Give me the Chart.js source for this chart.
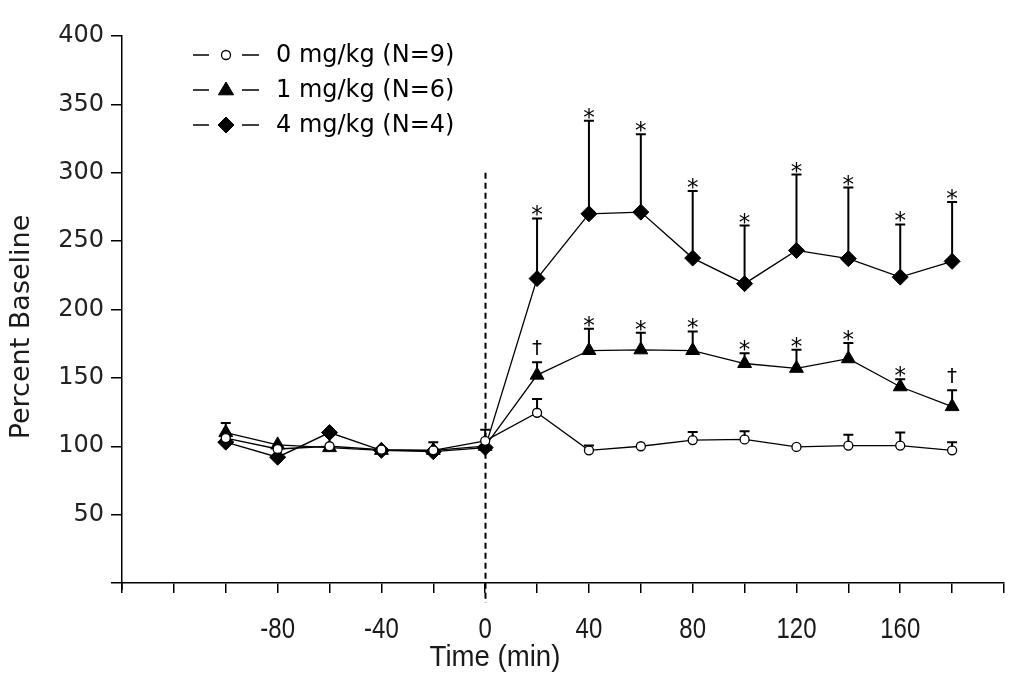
<!DOCTYPE html>
<html>
<head>
<meta charset="utf-8">
<title>Percent Baseline vs Time</title>
<script src="https://cdn.jsdelivr.net/npm/chart.js@4.4.1/dist/chart.umd.min.js"></script>
<style>
  html, body { margin: 0; padding: 0; background: #fff; }
  #wrap { width: 1019px; height: 686px; position: relative; }
</style>
</head>
<body>
<div id="wrap"><canvas id="chart"></canvas></div>
<script>
// data (percent of baseline, upper SEM)
const times = [-100, -80, -60, -40, -20, 0, 20, 40, 60, 80, 100, 120, 140, 160, 180];

const dose0 = [106, 98, 100, 97.5, 97, 104, 124.5, 97, 100, 104.5, 105, 99.5, 100.5, 100.5, 97];
const dose0Err = [0, 0, 0, 0, 6, 8, 10, 3.5, 0, 6, 6, 0, 8, 9.5, 6];

const dose1 = [110, 101, 99, 97, 97, 100, 152, 170, 170.5, 170, 160.5, 157, 164, 143.5, 129];
const dose1Err = [7, 0, 0, 0, 0, 0, 9.5, 16, 12.5, 14, 7.5, 13.5, 11.5, 5.5, 12];
const dose1Marks = ["", "", "", "", "", "", "\u2020", "*", "*", "*", "*", "*", "*", "*", "\u2020"];

const dose4 = [103, 92, 110, 97, 96, 99, 222.6, 270, 271.2, 237.6, 218.9, 243.2, 237.2, 223.7, 235.2];
const dose4Err = [0, 0, 0, 0, 0, 0, 44, 68, 57, 49, 42.5, 55.5, 52, 38.5, 43.5];
const dose4Marks = ["", "", "", "", "", "", "*", "*", "*", "*", "*", "*", "*", "*", "*"];

const legendLabels = ["0 mg/kg (N=9)", "1 mg/kg (N=6)", "4 mg/kg (N=4)"];
const xLabelTicks = [-80, -40, 0, 40, 80, 120, 160];
const xTitle = "Time (min)";
const yTitle = "Percent Baseline";
const injectionTime = 0;
const injectionLineTop = 300;

const SANS = "'DejaVu Sans', 'Liberation Sans', sans-serif";
const NARROW = "'Liberation Sans', 'Arimo', sans-serif";

function toPoints(vals){
  return vals.map((v, i) => ({ x: times[i], y: v }));
}

// dashed vertical line at injection time
const injectionLine = {
  id: "injectionLine",
  beforeDatasetsDraw(chart){
    const { ctx, scales: { x, y }, chartArea } = chart;
    const px = Math.round(x.getPixelForValue(injectionTime)) + 0.5;
    ctx.save();
    ctx.strokeStyle = "#000";
    ctx.lineWidth = 2;
    ctx.setLineDash([6, 4]);
    ctx.beginPath();
    ctx.moveTo(px, y.getPixelForValue(injectionLineTop));
    ctx.lineTo(px, chartArea.bottom + 20);
    ctx.stroke();
    ctx.setLineDash([]);
    // small overshoot of the y axis below the x axis
    ctx.lineWidth = 1.5;
    ctx.beginPath();
    ctx.moveTo(chartArea.left, chartArea.bottom);
    ctx.lineTo(chartArea.left, chartArea.bottom + 7);
    ctx.stroke();
    ctx.restore();
  }
};

// upper error bars plus significance marks
const errorBars = {
  id: "errorBars",
  afterDatasetsDraw(chart){
    const { ctx, scales: { y } } = chart;
    ctx.save();
    chart.data.datasets.forEach((ds, i) => {
      const meta = chart.getDatasetMeta(i);
      meta.data.forEach((pt, j) => {
        const e = ds.errHigh[j];
        const mark = ds.marks ? ds.marks[j] : "";
        let topY = pt.y - ds.pointRadius;
        if(e){
          topY = y.getPixelForValue(ds.data[j].y + e);
          ctx.strokeStyle = "#000";
          ctx.lineWidth = 2;
          ctx.beginPath();
          ctx.moveTo(pt.x, pt.y - ds.pointRadius + 1);
          ctx.lineTo(pt.x, topY);
          ctx.moveTo(pt.x - 5, topY);
          ctx.lineTo(pt.x + 5, topY);
          ctx.stroke();
        }
        if(mark){
          ctx.fillStyle = "#000";
          ctx.textAlign = "center";
          if(mark === "*"){
            ctx.font = "23px " + SANS;
            ctx.textBaseline = "alphabetic";
            ctx.fillText(mark, pt.x, topY + 4);
          } else {
            ctx.font = "20px " + SANS;
            ctx.textBaseline = "bottom";
            ctx.fillText(mark, pt.x, topY - 3);
          }
        }
      });
    });
    ctx.restore();
  }
};

// condensed x labels and axis titles, drawn as canvas text
const axisText = {
  id: "axisText",
  afterDraw(chart){
    const { ctx, scales: { x }, chartArea } = chart;
    ctx.save();
    ctx.fillStyle = "#1a1a1a";
    ctx.textAlign = "center";
    ctx.textBaseline = "middle";
    ctx.font = "30px " + NARROW;
    xLabelTicks.forEach(v => {
      ctx.save();
      ctx.translate(x.getPixelForValue(v), chartArea.bottom + 47);
      ctx.scale(0.8, 1);
      ctx.fillText(String(v), 0, 0);
      ctx.restore();
    });
    ctx.save();
    ctx.translate(495, chartArea.bottom + 75);
    ctx.scale(0.92, 1);
    ctx.fillText(xTitle, 0, 0);
    ctx.restore();

    ctx.save();
    ctx.font = "27px " + SANS;
    ctx.translate(22, 327);
    ctx.rotate(-Math.PI / 2);
    ctx.fillText(yTitle, 0, 0);
    ctx.restore();
    ctx.restore();
  }
};

// legend in the upper-left corner of the plot, Origin style
const cornerLegend = {
  id: "cornerLegend",
  afterDraw(chart){
    const ctx = chart.ctx;
    const rowY = [55, 90, 125];
    ctx.save();
    chart.data.datasets.forEach((ds, i) => {
      const yy = rowY[i];
      ctx.strokeStyle = "#000";
      ctx.lineWidth = 1.5;
      ctx.beginPath();
      ctx.moveTo(193, yy); ctx.lineTo(209, yy);
      ctx.moveTo(242, yy); ctx.lineTo(259, yy);
      ctx.stroke();
      ctx.fillStyle = ds.pointBackgroundColor;
      ctx.strokeStyle = ds.pointBorderColor;
      ctx.lineWidth = ds.pointBorderWidth;
      ctx.beginPath();
      const r = ds.pointRadius;
      if(ds.pointStyle === "circle"){
        ctx.arc(226, yy, r, 0, Math.PI * 2);
      } else if(ds.pointStyle === "triangle"){
        ctx.moveTo(226, yy - r);
        ctx.lineTo(226 + r * 0.95, yy + r * 0.6);
        ctx.lineTo(226 - r * 0.95, yy + r * 0.6);
        ctx.closePath();
      } else {
        ctx.moveTo(226, yy - r);
        ctx.lineTo(226 + r, yy);
        ctx.lineTo(226, yy + r);
        ctx.lineTo(226 - r, yy);
        ctx.closePath();
      }
      ctx.fill();
      ctx.stroke();
      ctx.fillStyle = "#000";
      ctx.font = "24px " + SANS;
      ctx.textAlign = "left";
      ctx.textBaseline = "middle";
      ctx.fillText(legendLabels[i], 276, yy + 1);
    });
    ctx.restore();
  }
};

const ctx = document.getElementById("chart").getContext("2d");
new Chart(ctx, {
  type: "line",
  data: {
    datasets: [
      {
        label: legendLabels[0],
        data: toPoints(dose0),
        errHigh: dose0Err,
        marks: null,
        borderColor: "#000",
        borderWidth: 1.3,
        pointStyle: "circle",
        pointRadius: 4.5,
        pointBackgroundColor: "#fff",
        pointBorderColor: "#000",
        pointBorderWidth: 1.3,
        tension: 0
      },
      {
        label: legendLabels[1],
        data: toPoints(dose1),
        errHigh: dose1Err,
        marks: dose1Marks,
        borderColor: "#000",
        borderWidth: 1.3,
        pointStyle: "triangle",
        pointRadius: 8,
        pointBackgroundColor: "#000",
        pointBorderColor: "#000",
        pointBorderWidth: 1,
        tension: 0
      },
      {
        label: legendLabels[2],
        data: toPoints(dose4),
        errHigh: dose4Err,
        marks: dose4Marks,
        borderColor: "#000",
        borderWidth: 1.3,
        pointStyle: "rectRot",
        pointRadius: 8,
        pointBackgroundColor: "#000",
        pointBorderColor: "#000",
        pointBorderWidth: 1,
        tension: 0
      }
    ]
  },
  options: {
    responsive: true,
    maintainAspectRatio: false,
    animation: false,
    layout: { padding: { left: 0, right: 15, top: 36, bottom: 0 } },
    plugins: {
      legend: { display: false },
      tooltip: { enabled: false }
    },
    scales: {
      x: {
        type: "linear",
        min: -140,
        max: 200,
        border: { display: true, color: "#000", width: 1.5 },
        grid: { drawOnChartArea: false, drawTicks: true, tickLength: 10, color: "#000", lineWidth: 1.5 },
        ticks: {
          stepSize: 20,
          padding: 0,
          maxRotation: 0,
          autoSkip: false,
          font: { family: NARROW, size: 12 },
          callback: () => ""
        },
        title: { display: false },
        afterFit(scale){ scale.height = 103; }
      },
      y: {
        min: 0,
        max: 400,
        border: { display: true, color: "#000", width: 1.5 },
        grid: { drawOnChartArea: false, drawTicks: true, tickLength: 11, color: "#000", lineWidth: 1.5 },
        ticks: {
          stepSize: 50,
          color: "#222",
          padding: 7,
          font: { family: SANS, size: 24 },
          callback: v => v === 0 ? "" : String(v)
        },
        title: { display: false },
        afterFit(scale){ scale.width = 122; }
      }
    }
  },
  plugins: [injectionLine, errorBars, axisText, cornerLegend]
});
</script>
</body>
</html>
